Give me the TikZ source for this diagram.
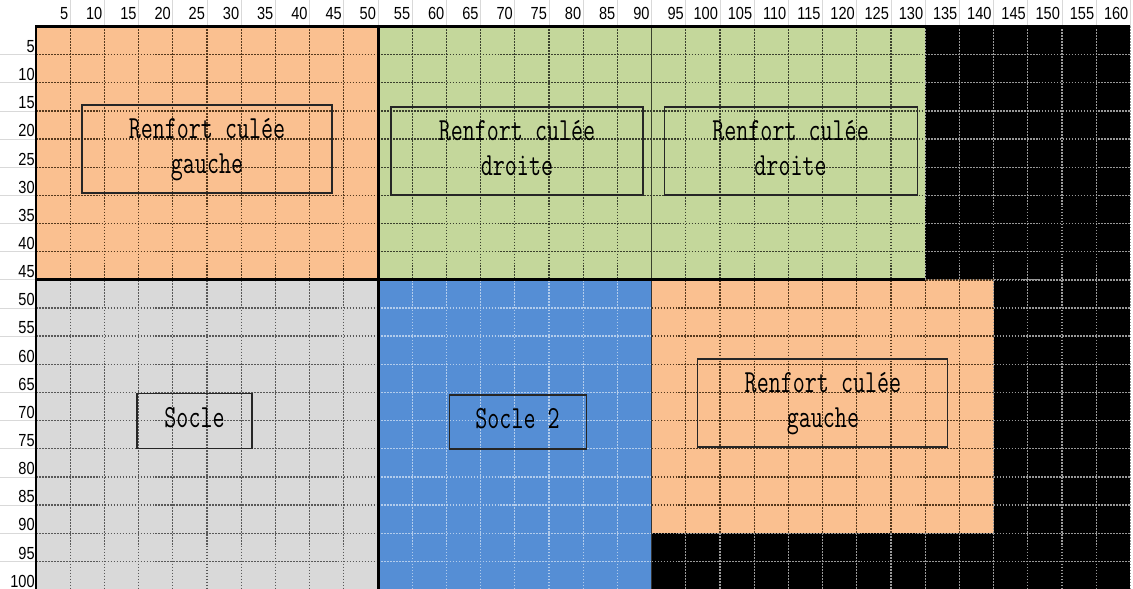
\documentclass[tikz,border=0pt]{standalone}
\usepackage{fontspec}
\usepackage{graphicx}
\setsansfont{Liberation Sans}
\usetikzlibrary{positioning}

\definecolor{peach}{RGB}{250,192,144}
\definecolor{olive}{RGB}{196,215,155}
\definecolor{socleblue}{RGB}{85,142,213}
\definecolor{soclegrey}{RGB}{217,217,217}

% stretched typewriter text for the boxes
\newcommand{\boxtext}[1]{\scalebox{1}[1.38]{\fontsize{13.3}{14.4}\selectfont\ttfamily\begin{tabular}{@{}c@{}}#1\end{tabular}}}
\newcommand{\headtext}[1]{\scalebox{1}[1.2]{\fontsize{8.3}{9}\selectfont\sffamily #1}}

\begin{document}
\begin{tikzpicture}[x=0.684cm, y=-0.563cm,
			cellline/.style={line width=0.75pt, dash pattern=on 1pt off 0.7pt},
			zonebox/.style={draw=black!85, line width=0.6pt, inner sep=0pt, minimum height=1.76cm},
			heavy/.style={line width=1.7pt, black}]
	\useasboundingbox (-1.0526,-0.9414) rectangle (32.076,19.9822);
	\fill[white] (-1.0526,-0.9414) rectangle (32.076,19.9822);
	% header cells
	\foreach \n in {1,...,32}{
		\draw[black!15] (\n,-0.9414) -- (\n,0);
		\pgfmathtruncatemacro\lbl{5*\n}
		\node[anchor=south east, inner sep=0pt] (col\n) at (\n-0.05,-0.22) {\headtext{\lbl}};
	}
	\foreach \r in {1,...,20}{
		\draw[black!15] (-1.0526,\r) -- (0,\r);
		\pgfmathtruncatemacro\lbl{5*\r}
		\node[anchor=south east, inner sep=0pt] (row\r) at (-0.03,\r-0.06) {\headtext{\lbl}};
	}
	% coloured zones with their dotted cells
	\foreach \xa/\ya/\xb/\yb/\fc/\lc in {0/0/10/9/peach/brown!45!black,
			10/0/26/9/olive/olive!30!black,
			26/0/32/9/black/white!60!black,
			0/9/10/20/soclegrey/black!65,
			10/9/18/20/socleblue/white!55!socleblue,
			18/9/28/18/peach/brown!45!black,
			28/9/32/20/black/white!60!black,
			18/18/28/20/black/white!60!black}{
		\fill[\fc] (\xa,\ya) rectangle (\xb,\yb);
		\foreach \i in {\xa,...,\xb}
			\draw[cellline, \lc] (\i,\ya) -- (\i,\yb);
		\foreach \j in {\ya,...,\yb}
			\draw[cellline, \lc] (\xa,\j) -- (\xb,\j);
	}
	\draw[olive!30!black, line width=0.8pt] (18,0) -- (18,9);
	\draw[black!80, line width=0.8pt] (18,9) -- (18,20);
	\draw[heavy] (0,9) -- (26,9);
	\draw[heavy] (10,0) -- (10,20);
	\draw[heavy] (0,20) -- (0,0) -- (32,0);
	% labelled boxes
	\node[zonebox, minimum width=5cm] (gauche) at (5.0,4.352) {\boxtext{Renfort culée\\gauche}};
	\node[zonebox, minimum width=5.04cm] (droite) at (14.064,4.423) {\boxtext{Renfort culée\\droite}};
	\node[zonebox, minimum width=5.06cm, right=0.4cm of droite] (droitebis) {\boxtext{Renfort culée\\droite}};
	\node[zonebox, minimum width=5cm] (gauchebis) at (23.01,13.375) {\boxtext{Renfort culée\\gauche}};
	\node[zonebox, minimum width=2.3cm, minimum height=1.1cm] (socle) at (4.635,14.0) {\boxtext{Socle}};
	\node[zonebox, minimum width=2.74cm, minimum height=1.08cm] (socledeux) at (14.08,14.05) {\boxtext{Socle 2}};
\end{tikzpicture}
\end{document}
